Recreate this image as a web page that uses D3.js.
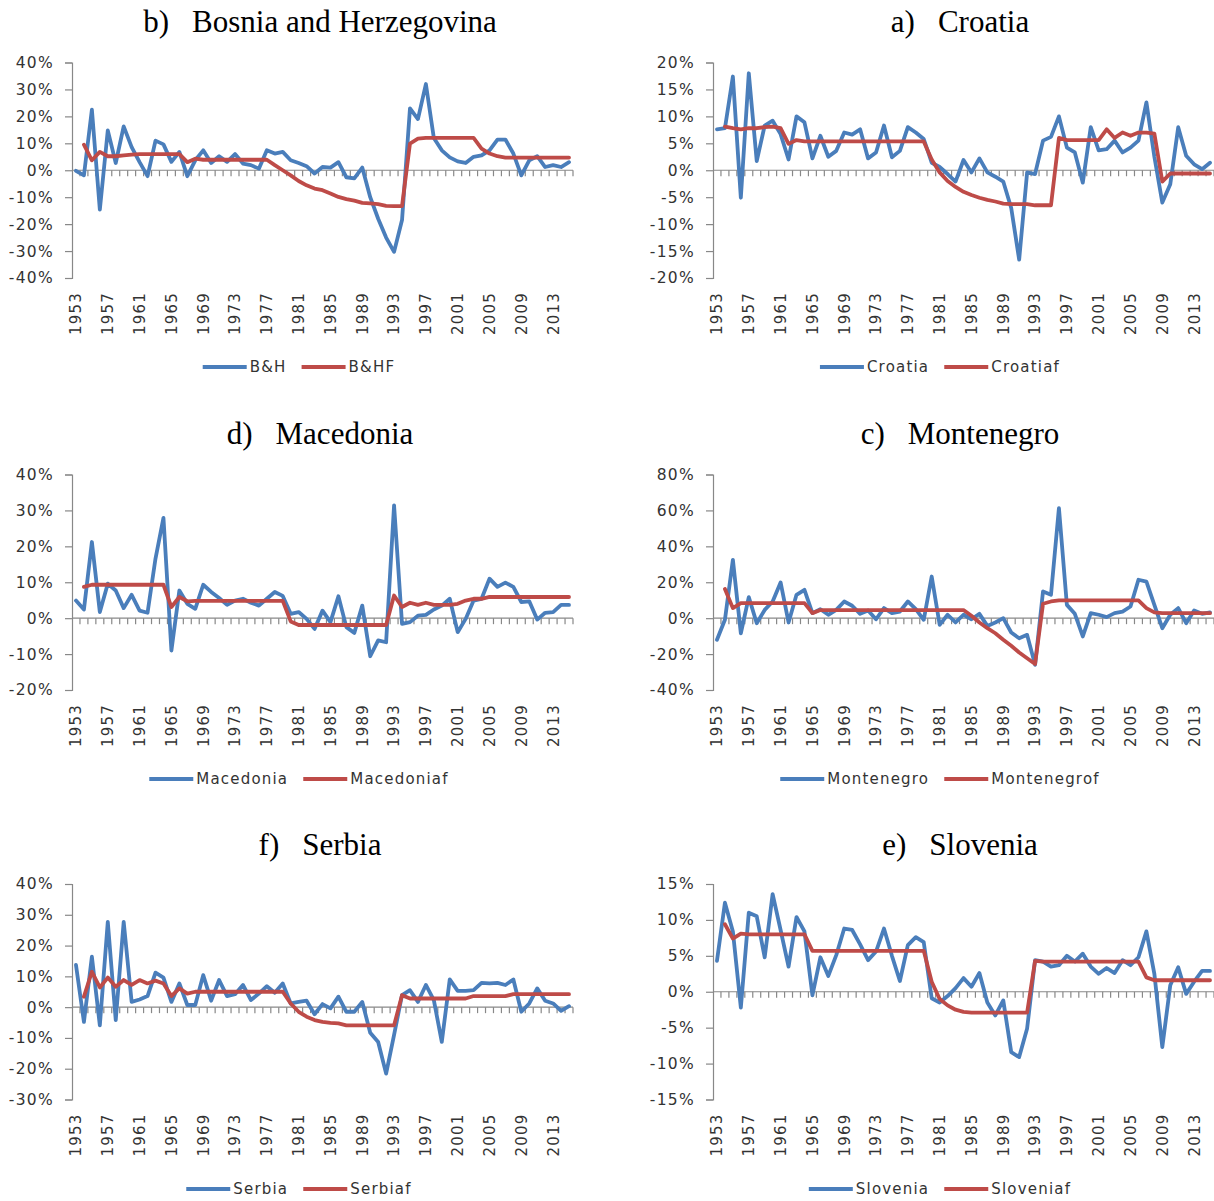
<!DOCTYPE html>
<html><head><meta charset="utf-8">
<script src="https://cdn.jsdelivr.net/npm/d3@7"></script>
<style>body{margin:0;background:#fff}svg{display:block}</style>
</head><body><svg id="c" width="1214" height="1201"></svg>
<script>
// ---------- DATA ----------
const years = d3.range(1953, 2016);
const yearTickLabels = years.filter(y => (y - 1953) % 4 === 0);

const bihActual = [-0.2,-1.9,22.5,-14.6,14.8,2.7,16.3,8.6,3,-2.2,11,9.6,3.1,6.8,-2.2,3.7,7.4,2.7,5.2,3.1,6,2.5,1.9,0.6,7.4,6.2,6.8,3.7,2.7,1.5,-1.2,1.2,1,3,-2.6,-3,1,-10,-18,-25,-30.3,-18.5,23,19,32,12,7.4,4.8,3.3,2.7,5,5.5,7.4,11.4,11.4,6.2,-1.9,3.7,5.2,1.2,1.9,1.2,3];
const bihForecast = [null,9.5,3.7,6.8,5.2,5.2,5.5,5.8,6,6,6,6,6,6,3,4.3,3.9,3.9,3.9,3.9,3.9,3.9,3.9,3.9,3.9,1.9,0,-1.9,-4,-5.6,-6.8,-7.4,-8.6,-9.9,-10.7,-11.3,-12.1,-12.3,-12.6,-13.2,-13.3,-13.3,9.9,11.7,12,12,12,12,12,12,12,8,6.2,5.2,4.7,4.7,4.7,4.7,4.7,4.7,4.7,4.7,4.7];

const croActual = [7.6,7.8,17.4,-5.1,18,1.7,8.3,9.2,6.7,2,10,8.9,2.2,6.4,2.5,3.6,7,6.6,7.6,2.2,3.3,8.3,2.4,3.6,8,7,5.8,1.4,0.6,-0.7,-2.1,1.9,-0.4,2.2,-0.4,-1.2,-2.1,-7,-16.6,-0.4,-0.7,5.5,6.2,10,4.2,3.3,-2.3,8,3.7,3.9,5.5,3.3,4.2,5.5,12.6,2.5,-6,-2.6,8,2.7,1.1,0.2,1.4];
const croForecast = [null,8.1,7.8,7.6,7.8,7.8,8,8.1,7.8,4.9,5.6,5.35,5.35,5.35,5.35,5.35,5.35,5.35,5.35,5.35,5.35,5.35,5.35,5.35,5.35,5.35,5.35,2,-0.4,-2,-3.1,-4,-4.6,-5.1,-5.5,-5.8,-6.2,-6.3,-6.3,-6.3,-6.5,-6.5,-6.5,6,5.6,5.6,5.6,5.6,5.6,7.6,6,7,6.4,7,7,6.8,-2.1,-0.6,-0.6,-0.6,-0.6,-0.6,-0.6];

const mkdActual = [4.9,2.4,21.2,1.7,9.6,7.7,2.8,6.5,2.1,1.5,16.6,27.9,-9,7.7,4,2.6,9.3,7.3,5.6,3.7,4.9,5.4,4.3,3.5,5.4,7.3,6.2,1.2,1.7,-0.2,-3,2.1,-1.1,6.1,-2.5,-4.1,3.5,-10.6,-6.2,-6.7,31.4,-1.6,-1.1,0.7,0.9,2.4,3.5,5.4,-3.9,-0.2,4.9,5.4,11,8.7,9.9,8.7,4.5,4.7,-0.4,1.5,1.7,3.7,3.7];
const mkdForecast = [null,8.7,9.3,9.3,9.3,9.3,9.3,9.3,9.3,9.3,9.3,9.3,3.1,5.9,4.7,4.8,4.8,4.8,4.8,4.8,4.8,4.8,4.8,4.8,4.8,4.8,4.8,-0.9,-1.9,-1.9,-1.9,-1.9,-1.9,-1.9,-1.9,-1.9,-1.9,-1.9,-1.9,-1.9,6.3,3.1,4.3,3.7,4.3,3.7,3.7,3.7,4,4.9,5.4,5.4,5.9,5.9,5.9,5.9,5.9,5.9,5.9,5.9,5.9,5.9,5.9];

const mneActual = [-12,-0.9,32.5,-8.4,11.7,-2.8,4.6,9.3,19.9,-2.4,13,15.8,2.8,5,1.9,4.6,9.3,6.9,2.4,4.3,-0.6,5.6,2.8,3.7,9.3,5,-0.9,23.2,-3.7,1.9,-2.4,1.9,-0.6,2.4,-4.3,-2.4,0,-8,-11.2,-9.3,-26,14.9,13,61.3,7.4,2.4,-10.2,2.8,1.9,0.6,2.8,3.7,6.5,21.4,20.4,7.4,-5.6,1.9,5.6,-2.8,4.3,2.4,3.2];
const mneForecast = [null,16.2,5.6,8.4,8.4,8.4,8.4,8.4,8.4,8.4,8.4,8.4,2.8,4.5,4.5,4.5,4.5,4.5,4.5,4.5,4.5,4.5,4.5,4.5,4.5,4.5,4.5,4.5,4.5,4.5,4.5,4.5,1.3,-2.4,-5.6,-8.4,-12,-15.4,-19.1,-22.3,-25.5,8,9.3,9.9,9.9,9.9,9.9,9.9,9.9,9.9,9.9,9.9,9.9,9.9,5.6,3.2,2.8,2.8,2.8,2.8,2.8,2.8,2.8];

const srbActual = [13.7,-4.8,16.4,-5.9,27.7,-4.2,27.7,1.7,2.5,3.6,11.2,9.6,1.7,7.7,0.7,0.7,10.4,2.1,8.8,3.6,4.2,7.2,2.3,4.4,6.8,4.7,7.7,1.2,1.7,2.1,-2.3,1,-0.4,3.4,-1.5,-1.5,1.7,-8.3,-11.3,-21.6,-9,3.9,5.5,1.7,7.2,2.3,-11.3,9,5.3,5.3,5.5,7.9,7.7,7.9,7.2,9,-1.5,1.2,6.1,2.1,1.2,-1.2,0.3];
const srbForecast = [null,3.4,11.5,6.4,9.6,6.6,8.8,7.2,8.8,7.7,8.6,7.7,3.6,6.1,4.4,5,5,5,5,5,5,5,5,5,5,5,5,1.2,-1.5,-3.1,-4.2,-4.8,-5.1,-5.3,-5.9,-5.9,-5.9,-5.9,-5.9,-5.9,-5.9,3.9,2.8,2.8,2.8,2.8,2.8,2.8,2.8,2.8,3.6,3.6,3.6,3.6,3.6,4.2,4.2,4.2,4.2,4.2,4.2,4.2,4.2];

const sloActual = [4.3,12.4,8.4,-2.2,11,10.5,4.8,13.6,8.6,3.5,10.4,8.4,-0.5,4.8,2.2,5.1,8.8,8.6,6.6,4.4,5.6,8.8,5,1.5,6.5,7.6,6.9,-0.9,-1.5,-0.6,0.5,1.9,0.7,2.6,-1.5,-3.3,-1.2,-8.4,-9.1,-5.1,4.4,4.2,3.5,3.7,5,4.2,5.3,3.5,2.5,3.3,2.6,4.4,3.7,4.8,8.4,2.5,-7.7,0.9,3.4,-0.3,1.4,2.9,2.9];
const sloForecast = [null,9.4,7.4,8.1,8,8,8,8,8,8,8,8,5.7,5.7,5.7,5.7,5.7,5.7,5.7,5.7,5.7,5.7,5.7,5.7,5.7,5.7,5.7,1.4,-1,-1.9,-2.5,-2.8,-2.9,-2.9,-2.9,-2.9,-2.9,-2.9,-2.9,-2.9,4.3,4.2,4.2,4.2,4.2,4.2,4.2,4.2,4.2,4.2,4.2,4.2,4.2,4.2,2,1.6,1.6,1.6,1.6,1.6,1.6,1.6,1.6];

const panelLetters = ["b)","a)","d)","c)","f)","e)"];
const panelNames = ["Bosnia and Herzegovina","Croatia","Macedonia","Montenegro","Serbia","Slovenia"];
const actualLegend = ["B&H","Croatia","Macedonia","Montenegro","Serbia","Slovenia"];
const forecastLegend = ["B&HF","Croatiaf","Macedoniaf","Montenegrof","Serbiaf","Sloveniaf"];
const yDomains = [[-40,40],[-20,20],[-20,40],[-40,80],[-30,40],[-15,15]];
const yTickSteps = [10,5,10,20,10,5];
const actualSeries = [bihActual, croActual, mkdActual, mneActual, srbActual, sloActual];
const forecastSeries = [bihForecast, croForecast, mkdForecast, mneForecast, srbForecast, sloForecast];

// ---------- LAYOUT ----------
const W = 1214, H = 1201;
const colX0 = [72, 713], plotW = 501;
const rowTop = [62.5, 474.5, 884], rowBot = [278, 690, 1099.5];
const titleY = [32, 444, 855], legendY = [367, 779, 1189];
const titleCX = [320, 960], legendCX = [299, 940];
const BLUE = "#4A7EBB", RED = "#BE4B48", AXIS = "#888", TXT = "#333";
const FONT = "DejaVu Sans";

const svg = d3.select("#c");
svg.append("rect").attr("width", W).attr("height", H).attr("fill", "#fff");

for (let p = 0; p < 6; p++) {
  const col = p % 2, row = Math.floor(p / 2);
  const x0 = colX0[col], top = rowTop[row], bot = rowBot[row];
  const g = svg.append("g");

  const x = d3.scaleBand().domain(years).range([x0, x0 + plotW]).paddingInner(0).paddingOuter(0);
  const y = d3.scaleLinear().domain(yDomains[p]).range([bot, top]);
  const cx = yr => x(yr) + x.bandwidth() / 2;

  // title
  const t = g.append("text").attr("x", titleCX[col]).attr("y", titleY[row])
    .attr("text-anchor", "middle").attr("font-family", "Liberation Serif")
    .attr("font-size", 31).attr("fill", "#000");
  t.append("tspan").text(panelLetters[p]);
  t.append("tspan").attr("dx", 23).text(panelNames[p]);

  // y axis
  const ticks = d3.range(yDomains[p][0], yDomains[p][1] + 0.001, yTickSteps[p]);
  const yAxis = d3.axisLeft(y).tickValues(ticks).tickSize(7).tickPadding(11)
    .tickFormat(d => d + "%");
  const ya = g.append("g").attr("transform", `translate(${x0},0)`).call(yAxis);
  ya.select(".domain").attr("stroke", AXIS).attr("stroke-width", 1.2);
  ya.selectAll(".tick line").attr("stroke", AXIS).attr("stroke-width", 1.2);
  ya.selectAll(".tick text").attr("font-family", FONT).attr("font-size", 15.5)
    .attr("letter-spacing", 1.3).attr("fill", TXT);

  // x axis at zero line
  const y0 = y(0);
  g.append("line").attr("x1", x0).attr("x2", x0 + plotW).attr("y1", y0).attr("y2", y0)
    .attr("stroke", AXIS).attr("stroke-width", 1.2);
  const bounds = years.slice(1).map(yr => x(yr)).concat([x0 + plotW]);
  g.selectAll(".xt").data(bounds).join("line")
    .attr("x1", d => d).attr("x2", d => d).attr("y1", y0).attr("y2", y0 + 6)
    .attr("stroke", AXIS).attr("stroke-width", 1.2);

  // year labels
  g.selectAll(".yl").data(yearTickLabels).join("text")
    .attr("transform", d => `translate(${cx(d)},${bot + 14}) rotate(-90)`)
    .attr("text-anchor", "end").attr("dy", "0.36em")
    .attr("font-family", FONT).attr("font-size", 15).attr("letter-spacing", 1.2)
    .attr("fill", TXT).text(d => d);

  // lines
  const line = d3.line().defined(d => d[1] != null)
    .x(d => cx(d[0])).y(d => y(d[1]));
  g.append("path").datum(years.map((yr, i) => [yr, actualSeries[p][i]]))
    .attr("d", line).attr("fill", "none").attr("stroke", BLUE)
    .attr("stroke-width", 3.8).attr("stroke-linejoin", "round").attr("stroke-linecap", "round");
  g.append("path").datum(years.map((yr, i) => [yr, forecastSeries[p][i]]))
    .attr("d", line).attr("fill", "none").attr("stroke", RED)
    .attr("stroke-width", 3.8).attr("stroke-linejoin", "round").attr("stroke-linecap", "round");

  // legend
  const lg = g.append("g");
  const items = [[actualLegend[p], BLUE], [forecastLegend[p], RED]];
  let cur = 0;
  items.forEach(([name, color]) => {
    lg.append("line").attr("x1", cur).attr("x2", cur + 44)
      .attr("stroke", color).attr("stroke-width", 3.8);
    const tx = lg.append("text").attr("x", cur + 47).attr("dy", "0.36em")
      .attr("font-family", FONT).attr("font-size", 15).attr("letter-spacing", 1.2)
      .attr("fill", TXT).text(name);
    const w = tx.node().getComputedTextLength();
    cur += 47 + w + 15;
  });
  const total = cur - 15;
  lg.attr("transform", `translate(${legendCX[col] - total / 2},${legendY[row]})`);
}
</script>
</body></html>
